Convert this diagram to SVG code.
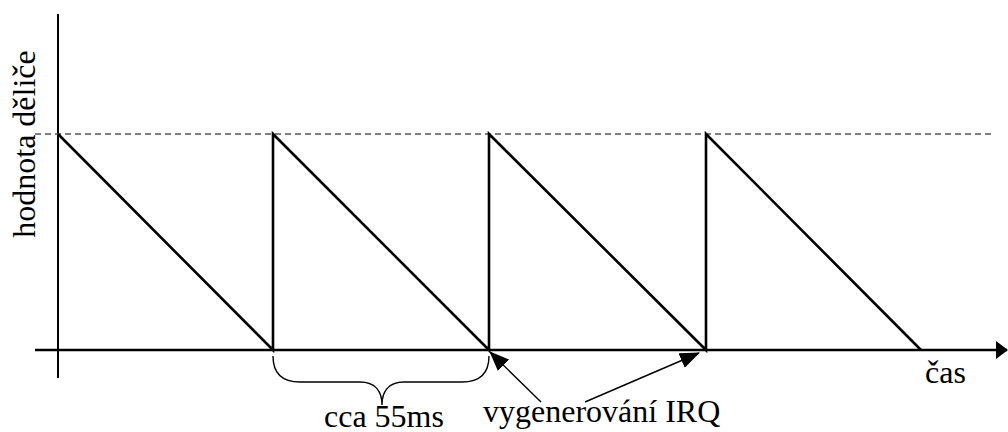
<svg xmlns="http://www.w3.org/2000/svg" width="1008" height="432" viewBox="0 0 1008 432">
<style>
.ln{stroke:#000;stroke-width:2.6;fill:none}
.ax{stroke:#000;stroke-width:2;fill:none}
.thin{stroke:#000;stroke-width:1.4;fill:none}
.dash{stroke:#555;stroke-width:1.4;stroke-dasharray:6,4;fill:none}
.lbl{font-family:"Liberation Serif",serif !important;font-size:32px}
</style>
<defs>
<marker id="ax" markerWidth="12" markerHeight="18" refX="11" refY="9" orient="auto" markerUnits="userSpaceOnUse" viewBox="0 0 12 18">
<path d="M0,0 L12,9 L0,18 z" fill="#000"/>
</marker>
<marker id="sa" markerWidth="20" markerHeight="16" refX="19" refY="8" orient="auto" markerUnits="userSpaceOnUse" viewBox="0 0 20 16">
<path d="M0,0 L20,8 L0,16 z" fill="#000"/>
</marker>
</defs>
<g id="axes">
<line class="ax" x1="58" y1="14" x2="58" y2="378"/>
<line class="ln" x1="35" y1="350" x2="1007" y2="350" marker-end="url(#ax)"/>
<line class="dash" x1="35" y1="134" x2="993" y2="134"/>
</g>
<g id="sawtooth">
<polyline class="ln" stroke-linejoin="miter" points="58,134 273,350 273,134 489,350 489,134 706,350 706,134 921,350"/>
</g>
<g id="brace">
<path class="thin" d="M273,356 C273,372 280,382 300,382 L360,382 C376,382 382,392 382,405 C382,392 388,382 404,382 L462,382 C482,382 489,372 489,356"/>
</g>
<g id="connectors">
<line class="thin" x1="541" y1="402" x2="490" y2="352" marker-end="url(#sa)"/>
<line class="thin" x1="585" y1="402" x2="699" y2="353" marker-end="url(#sa)"/>
</g>
<g id="labels">
<text class="lbl" style="font-family:'Liberation Serif',serif" font-family="Liberation Serif" font-size="32" x="35" y="144" text-anchor="middle" transform="rotate(-90 35 144)">hodnota děliče</text>
<text class="lbl" style="font-family:'Liberation Serif',serif" font-family="Liberation Serif" font-size="32" x="324" y="427">cca 55ms</text>
<text class="lbl" style="font-family:'Liberation Serif',serif" font-family="Liberation Serif" font-size="32" x="483" y="422">vygenerování IRQ</text>
<text class="lbl" style="font-family:'Liberation Serif',serif" font-family="Liberation Serif" font-size="32" x="925" y="383">čas</text>
</g>
</svg>
